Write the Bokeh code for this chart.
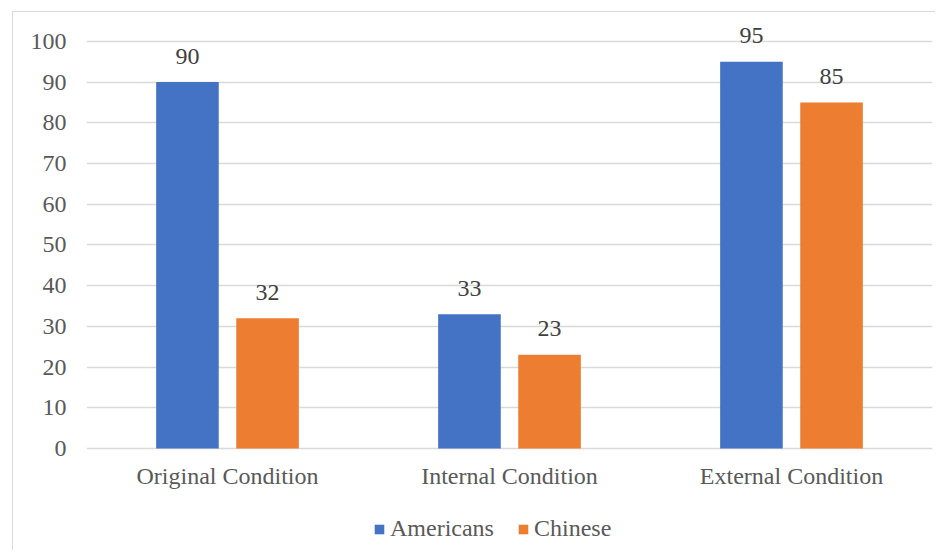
from bokeh.plotting import figure
from bokeh.models import ColumnDataSource, FactorRange, Range1d, FixedTicker, Legend, LegendItem
from bokeh.transform import dodge
from bokeh.core.properties import value
from bokeh.embed import file_html
from bokeh.resources import INLINE

categories = ["Original Condition", "Internal Condition", "External Condition"]
americans = [90, 33, 95]
chinese = [32, 23, 85]
y_ticks = [0, 10, 20, 30, 40, 50, 60, 70, 80, 90, 100]

FONT = "Liberation Serif"
TXT = "#595959"
GRID = "#d9d9d9"
BLUE = "#4472C4"
ORANGE = "#ED7D31"

src = ColumnDataSource(dict(cat=categories, am=americans, ch=chinese,
                            am_lbl=[str(v) for v in americans],
                            ch_lbl=[str(v) for v in chinese]))

p = figure(width=923, height=539, output_backend="svg", toolbar_location=None,
           x_range=FactorRange(*categories), y_range=Range1d(-24.57, 107.1),
           min_border_left=73, min_border_right=4, min_border_top=0, min_border_bottom=3)
p.styles = {"margin-left": "12px", "margin-top": "11px",
            "border-left": "1px solid #d9d9d9", "border-top": "1px solid #d9d9d9"}
p.outline_line_color = None
p.background_fill_color = "white"
p.border_fill_color = "white"

off = 0.142
w = 0.222
r1 = p.vbar(x=dodge("cat", -off, range=p.x_range), top="am", width=w, source=src,
            fill_color=BLUE, line_color=None)
r2 = p.vbar(x=dodge("cat", off, range=p.x_range), top="ch", width=w, source=src,
            fill_color=ORANGE, line_color=None)

p.text(x=dodge("cat", -off, range=p.x_range), y="am", text="am_lbl", source=src,
       text_font=value(FONT), text_font_size="24px", text_color="#404040",
       text_align="center", text_baseline="alphabetic", y_offset=-26)
p.text(x=dodge("cat", off, range=p.x_range), y="ch", text="ch_lbl", source=src,
       text_font=value(FONT), text_font_size="24px", text_color="#404040",
       text_align="center", text_baseline="alphabetic", y_offset=-26)

p.xgrid.grid_line_color = None
p.ygrid.grid_line_color = GRID
p.ygrid.grid_line_width = 1.3
p.yaxis.ticker = FixedTicker(ticks=y_ticks)
p.xaxis.fixed_location = 0

for ax in (p.xaxis[0], p.yaxis[0]):
    ax.axis_line_color = None
    ax.major_tick_line_color = None
    ax.minor_tick_line_color = None
    ax.major_tick_out = 0
    ax.major_tick_in = 0
    ax.major_label_text_font = FONT
    ax.major_label_text_font_size = "24px"
    ax.major_label_text_color = TXT
p.yaxis.major_label_standoff = 20
p.xaxis.major_label_standoff = 15

legend = Legend(items=[LegendItem(label="Americans", renderers=[r1]),
                       LegendItem(label="Chinese", renderers=[r2])],
                orientation="horizontal", location=(287, 6),
                label_text_font=FONT, label_text_font_size="24px", label_text_color=TXT,
                glyph_width=12, glyph_height=12, label_standoff=5, spacing=23,
                padding=0, margin=0, border_line_color=None, background_fill_alpha=0)
p.add_layout(legend)

open("out.html", "w").write(file_html(p, INLINE))
